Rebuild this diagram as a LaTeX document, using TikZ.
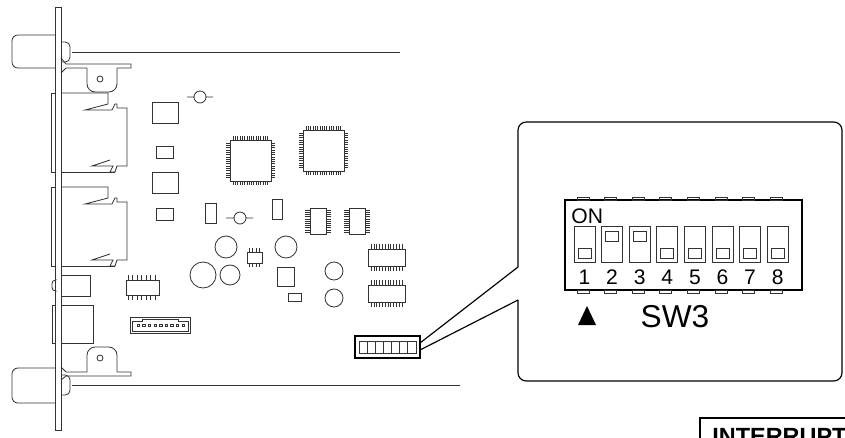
\documentclass[tikz,border=0pt]{standalone}
\usepackage{fontspec}
\setmainfont{Liberation Sans}
\begin{document}
\begin{tikzpicture}[x=0.03cm,y=-0.03cm,line width=0.7pt,
    part/.style={draw=black!80},
    pin/.style={draw=black!80,line width=0.4pt},
    num/.style={font=\fontsize{18}{18}\selectfont,inner sep=0pt}]
  \useasboundingbox (0,0) rectangle (845,437);
  \clip (0,0) rectangle (845,437);
  % front panel and knobs
  \draw[part] (55,7) rectangle (61,430);
  \draw[part,rounded corners=5] (55,35) -- (12,35) -- (12,68) -- (55,68);
  \draw[part,rounded corners=5] (55,368) -- (12,368) -- (12,403) -- (55,403);
  \draw[part,rounded corners=4] (61,42) -- (70,42) -- (70,62) -- (61,62);
  \draw[part,rounded corners=4] (61,375) -- (70,375) -- (70,395) -- (61,395);
  \draw[part] (72,52) -- (400,52);
  \draw[part] (72,385) -- (460,385);
  % brackets
  \draw[part] (61,58) -- (66,64) -- (131,64) -- (131,68) -- (117,68);
  \draw[part,rounded corners=7] (117,68) -- (117,92) -- (87,92) -- (87,68);
  \draw[part] (87,68) -- (66,68) -- (61,73);
  \draw[part] (100,79) circle (3);
  \draw[part] (61,380) -- (66,376) -- (131,376) -- (131,372) -- (117,372);
  \draw[part,rounded corners=7] (117,372) -- (117,347) -- (87,347) -- (87,372);
  \draw[part] (87,372) -- (66,372) -- (61,367);
  \draw[part] (100,358) circle (3);
  % connectors on panel
  \foreach \y in {93,187}{
    \draw[part] (51,\y) rectangle (55,\y+79);
    \draw[part] (61,\y) -- (108,\y) -- (108,\y+11) -- (85,\y+17) -- (112,\y+17) -- (115,\y+11) -- (117,\y+11) -- (117,\y+15) -- (127,\y+15)
      -- (127,\y+73) -- (117,\y+73) -- (115,\y+79) -- (110,\y+79) -- (113,\y+73) -- (92,\y+73) -- (110,\y+67);
    \draw[part] (61,\y+79) -- (115,\y+79);
  }
  \draw[part] (61,275) rectangle (90,296);
  \draw[part,rounded corners=3] (55,280) -- (52,280) -- (52,291) -- (55,291);
  \draw[part] (52,305) rectangle (55,343);
  \draw[part] (61,305) rectangle (93,343);
  % small parts
  \draw[part] (152,102) rectangle (178,123);
  \draw[part] (156,146) rectangle (173,158);
  \draw[part] (152,172) rectangle (178,193);
  \draw[part] (156,208) rectangle (173,220);
  \draw[part] (205,203) rectangle (216,223);
  \draw[part] (272,199) rectangle (282,219);
  \draw[part] (277,267) rectangle (294,286);
  \draw[part] (288,293) rectangle (301,301);
  \draw[part] (187,97) -- (194,97) (206,97) -- (213,97) (200,97) circle (6);
  \draw[part] (226,218) -- (234,218) (246,218) -- (253,218) (240,218) circle (6);
  \foreach \cx/\cy/\r in {226/247/11,286/247/11,203/275/13,230/275/10,334/271/9,334/298/9}
    \draw[part] (\cx,\cy) circle (\r);
  % quad flat packages
  \foreach \qx/\qy in {230/140,303/130}{
    \draw[part] (\qx,\qy) rectangle (\qx+41,\qy+41);
    \foreach \i in {0,...,15}{
      \draw[pin] (\qx+3+2.3*\i,\qy) -- ++(0,-4) (\qx+3+2.3*\i,\qy+41) -- ++(0,4);
      \draw[pin] (\qx,\qy+3+2.3*\i) -- ++(-4,0) (\qx+41,\qy+3+2.3*\i) -- ++(4,0);
    }
  }
  % vertical SOIC
  \foreach \sx in {310,349}{
    \draw[part] (\sx,208) rectangle (\sx+16,234);
    \foreach \i in {0,...,10}
      \draw[pin] (\sx,210+2.2*\i) -- ++(-5,0) (\sx+16,210+2.2*\i) -- ++(5,0);
  }
  % horizontal SOIC
  \foreach \sy in {249,285}{
    \draw[part] (368,\sy) rectangle (405,\sy+17);
    \foreach \i in {0,...,11}
      \draw[pin] (371+2.8*\i,\sy) -- ++(0,-5) (371+2.8*\i,\sy+17) -- ++(0,5);
  }
  \draw[part] (126,280) rectangle (159,295);
  \foreach \i in {0,...,6}
    \draw[pin] (128+4.5*\i,280) -- ++(0,-5) (128+4.5*\i,295) -- ++(0,5);
  \draw[part] (247,252) rectangle (262,263);
  \foreach \i in {0,...,3}
    \draw[pin] (249+3.5*\i,252) -- ++(0,-4) (249+3.5*\i,263) -- ++(0,4);
  % header
  \draw[part] (130,317) rectangle (190,333);
  \draw[part] (132,321) -- (142,321) -- (142,319) -- (178,319) -- (178,321) -- (188,321) -- (188,331) -- (132,331) -- cycle;
  \foreach \i in {0,...,8}
    \draw[pin] (137+5.6*\i,324) rectangle ++(2.5,2.5);
  % dip switch on board
  \draw[line width=1.6pt] (355,336) rectangle (420,358);
  \draw[part] (359,341) rectangle (416,353);
  \foreach \i in {1,...,6}
    \draw[part] (359+8.1*\i,341) -- ++(0,12);
  % callout
  \coordinate (tipA) at (420,343);
  \coordinate (tipB) at (420,350);
  \draw[line width=1pt] (tipA) -- (518,267);
  \draw[line width=1pt] (tipB) -- (518,300);
  \draw[line width=1pt,rounded corners=7] (518,267) -- (518,122) -- (842,122) -- (842,381) -- (518,381) -- (518,300);
  % switch SW3
  \draw[line width=1.1pt] (565,200) rectangle (802,290);
  \foreach \k/\st in {1/0,2/1,3/1,4/0,5/0,6/0,7/0,8/0}{
    \pgfmathsetmacro{\sx}{577+27.6*(\k-1)}
    \draw[part] (\sx,197) rectangle (\sx+12,200);
    \draw[part] (\sx,290) rectangle (\sx+12,293);
    \draw[part] (\sx-3,226) rectangle (\sx+18,262);
    \ifnum\st=1
      \draw[part] (\sx+1,231) rectangle (\sx+14,241);
    \else
      \draw[part] (\sx+1,248) rectangle (\sx+14,258);
    \fi
    \node[num] (n\k) at (\sx+7.5,277) {\k};
  }
  \node[num,anchor=south west] (on) at (571,224) {ON};
  \fill (578,325) -- (587,306) -- (596,325) -- cycle;
  \node[font=\fontsize{27}{27}\selectfont,inner sep=0pt] (sw) at (675,317) {SW3};
  % interrupt box
  \draw[line width=1pt] (700,440) -- (700,418) -- (850,418);
  \node[anchor=north west,font=\bfseries\fontsize{20}{20}\selectfont,inner sep=0pt] (intr) at (712,428) {INTERRUPT};
\end{tikzpicture}
\end{document}
